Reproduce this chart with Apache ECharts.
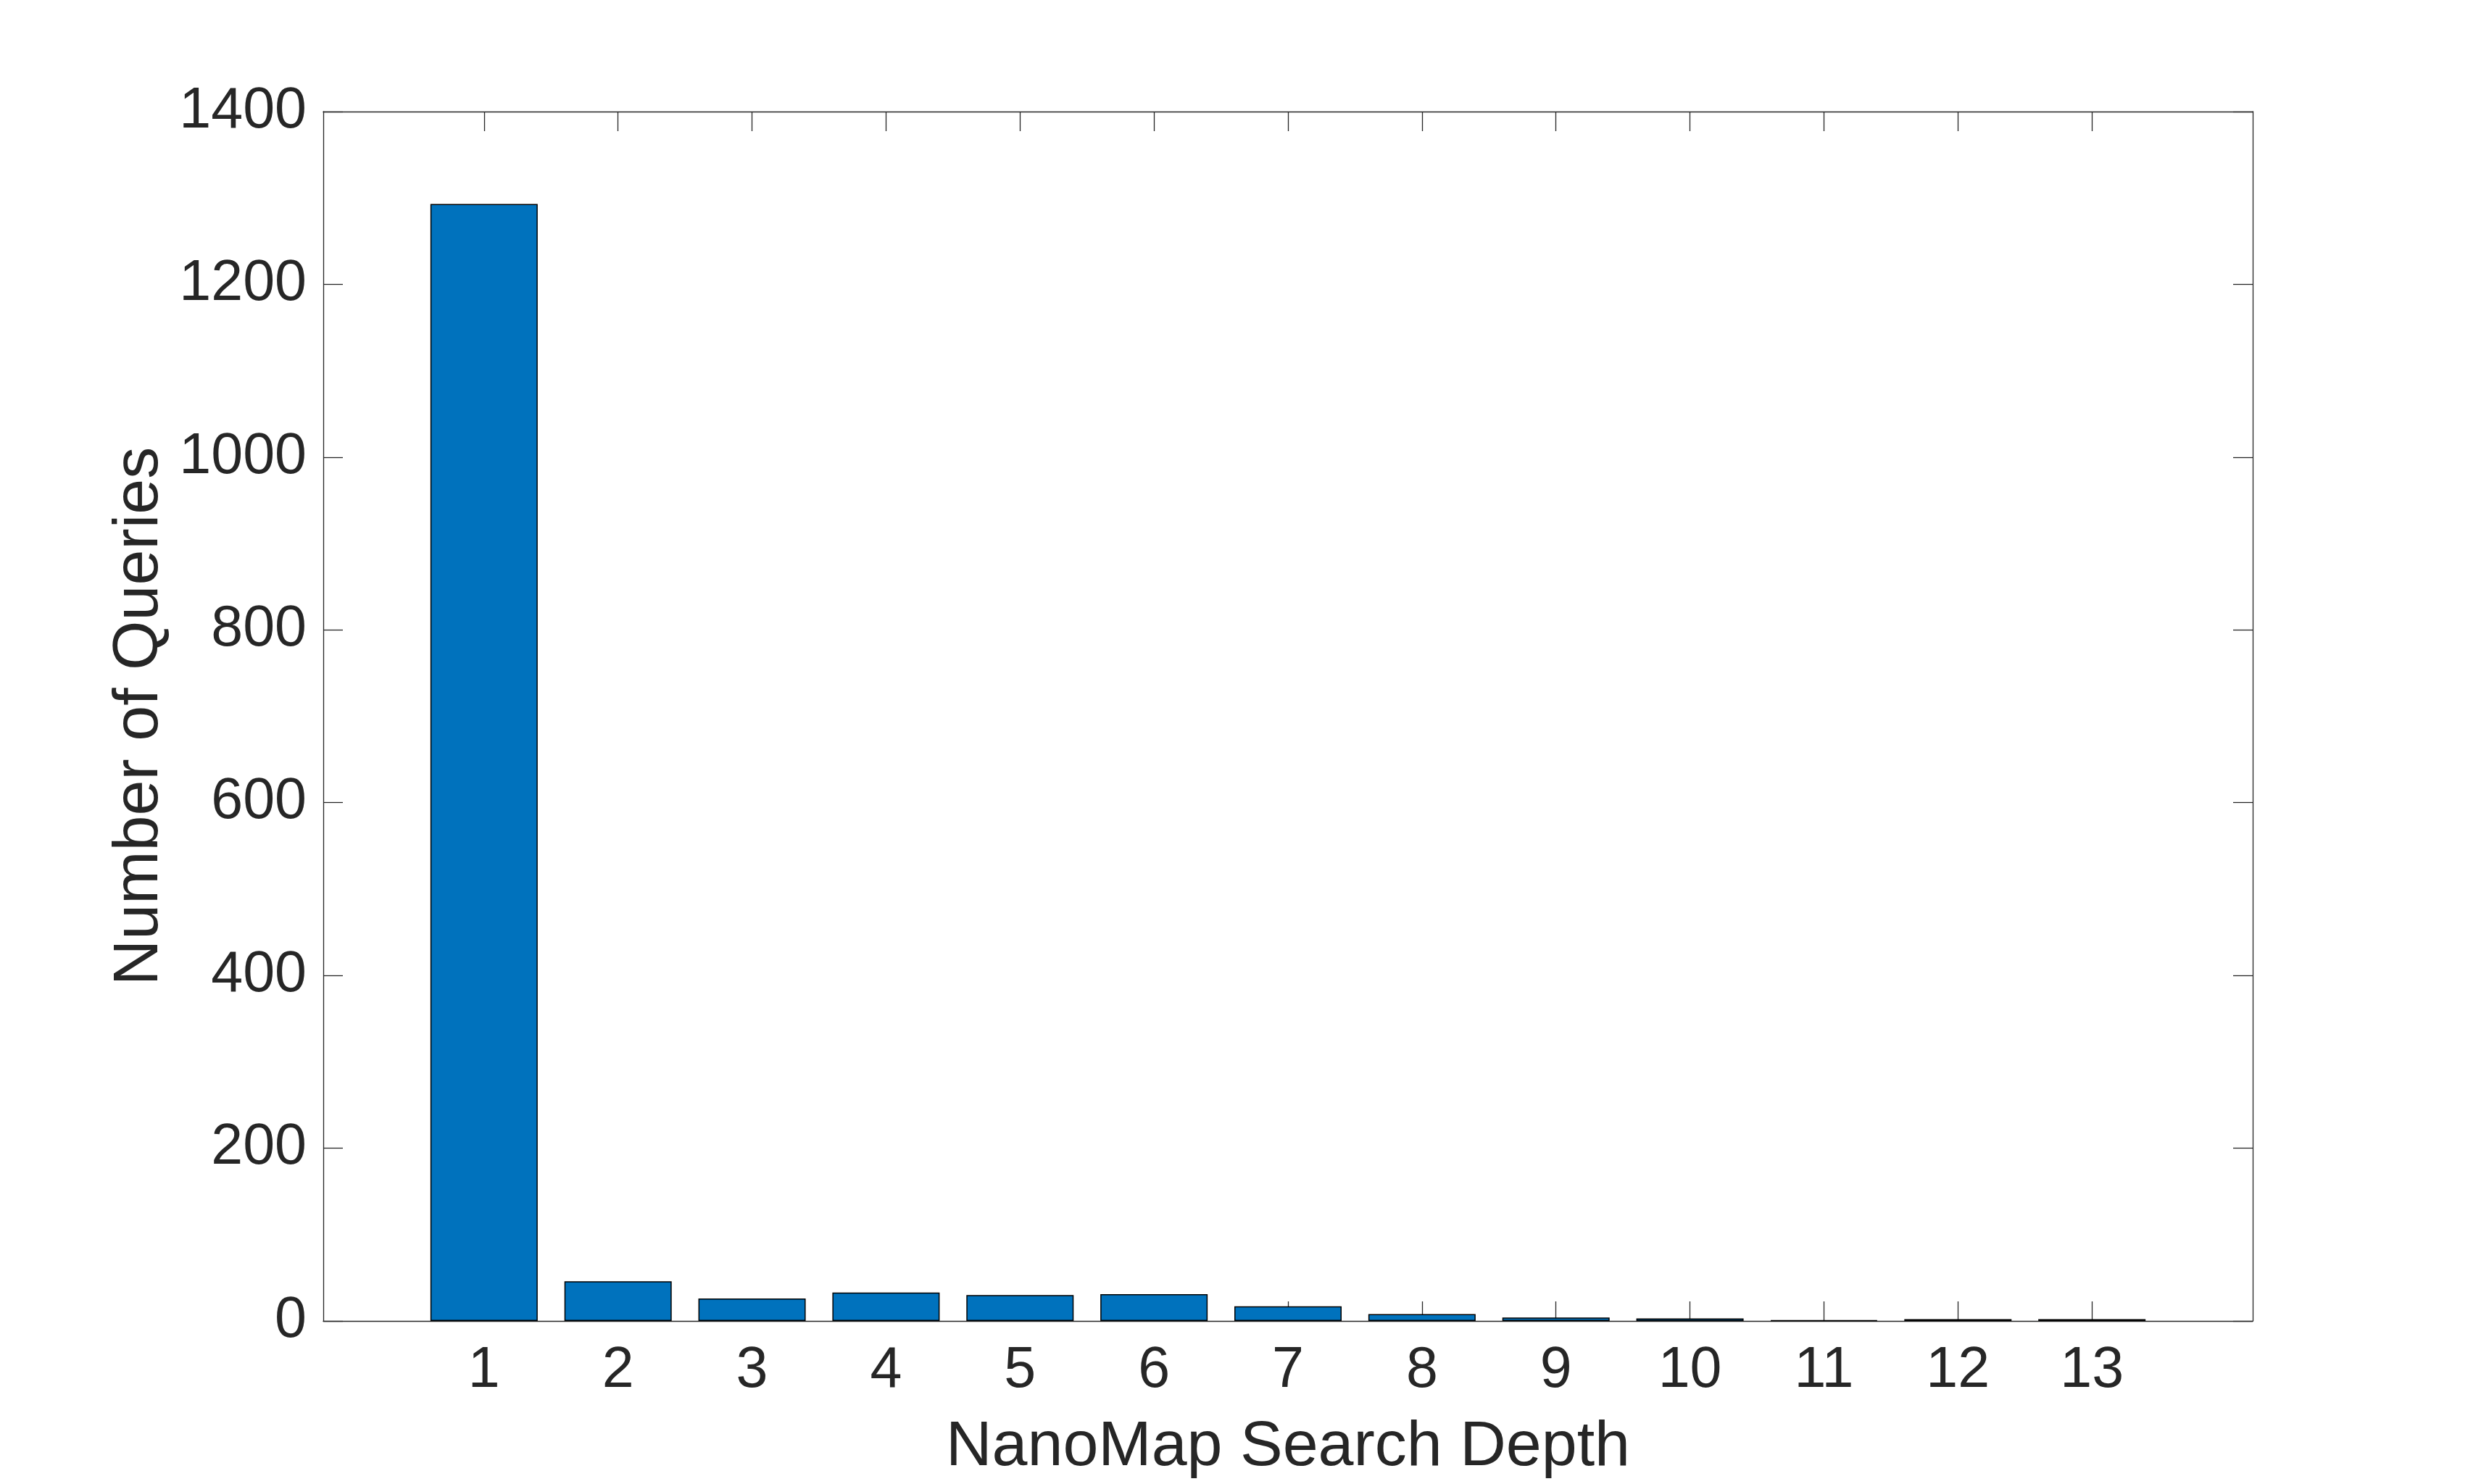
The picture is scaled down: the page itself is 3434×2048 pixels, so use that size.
<!DOCTYPE html>
<html>
<head>
<meta charset="utf-8">
<title>NanoMap Search Depth</title>
<script src="https://cdn.jsdelivr.net/npm/echarts@6/dist/echarts.min.js"></script>
<style>
  html, body { margin: 0; padding: 0; background: #fff; }
  #chart { width: 3434px; height: 2048px; }
</style>
</head>
<body>
<div id="chart"></div>
<script>
// search depth categories
const depths = [1, 2, 3, 4, 5, 6, 7, 8, 9, 10, 11, 12, 13];
// number of queries per depth
const queries = [1293, 46, 26, 33, 30, 31, 17, 8, 4, 3, 1, 2, 2];
// y tick labels
const yTicks = [0, 200, 400, 600, 800, 1000, 1200, 1400];

const axisColor = "#262626";
const fontFamily = "'Liberation Sans', Arial, Helvetica, sans-serif";

const chart = echarts.init(document.getElementById("chart"));

const lineStyle = { color: axisColor, width: 1.3 };
const tickStyle = { show: true, inside: true, length: 27, lineStyle: lineStyle };

const option = {
    backgroundColor: "#fff",
    animation: false,
    textStyle: { fontFamily: fontFamily },
    grid: { left: 446, right: 326, top: 154, bottom: 225, containLabel: false },
    xAxis: [
        {
            type: "value",
            position: "bottom",
            min: -0.2,
            max: 14.2,
            name: "NanoMap Search Depth",
            nameLocation: "middle",
            nameGap: 131,
            nameTextStyle: { fontSize: 88, color: axisColor, fontFamily: fontFamily },
            axisLine: { show: true, onZero: false, lineStyle: lineStyle },
            axisTick: Object.assign({ customValues: depths }, tickStyle),
            axisLabel: {
                customValues: depths,
                fontSize: 79,
                color: axisColor,
                margin: 30,
                fontFamily: fontFamily,
            },
            splitLine: { show: false },
        },
        {
            // mirrored top frame
            type: "value",
            position: "top",
            min: -0.2,
            max: 14.2,
            axisLine: { show: true, onZero: false, lineStyle: lineStyle },
            axisTick: Object.assign({ customValues: depths }, tickStyle),
            axisLabel: { show: false },
            splitLine: { show: false },
        },
    ],
    yAxis: [
        {
            type: "value",
            position: "left",
            min: 0,
            max: 1400,
            name: "Number of Queries",
            nameLocation: "middle",
            nameGap: 203,
            nameTextStyle: { fontSize: 88, color: axisColor, fontFamily: fontFamily },
            axisLine: { show: true, onZero: false, lineStyle: lineStyle },
            axisTick: Object.assign({ customValues: yTicks }, tickStyle),
            axisLabel: {
                customValues: yTicks,
                formatter: (v) => String(v),
                fontSize: 79,
                color: axisColor,
                margin: 23,
                fontFamily: fontFamily,
            },
            splitLine: { show: false },
        },
        {
            // mirrored right frame
            type: "value",
            position: "right",
            min: 0,
            max: 1400,
            axisLine: { show: true, onZero: false, lineStyle: lineStyle },
            axisTick: Object.assign({ customValues: yTicks }, tickStyle),
            axisLabel: { show: false },
            splitLine: { show: false },
        },
    ],
    series: [
        {
            type: "bar",
            xAxisIndex: 0,
            yAxisIndex: 0,
            barWidth: 148,
            data: depths.map((d, i) => [d, queries[i]]),
            itemStyle: { color: "#0072BD", borderColor: "#000", borderWidth: 1.5 },
            z: 1,
        },
    ],
};

chart.setOption(option);
</script>
</body>
</html>
